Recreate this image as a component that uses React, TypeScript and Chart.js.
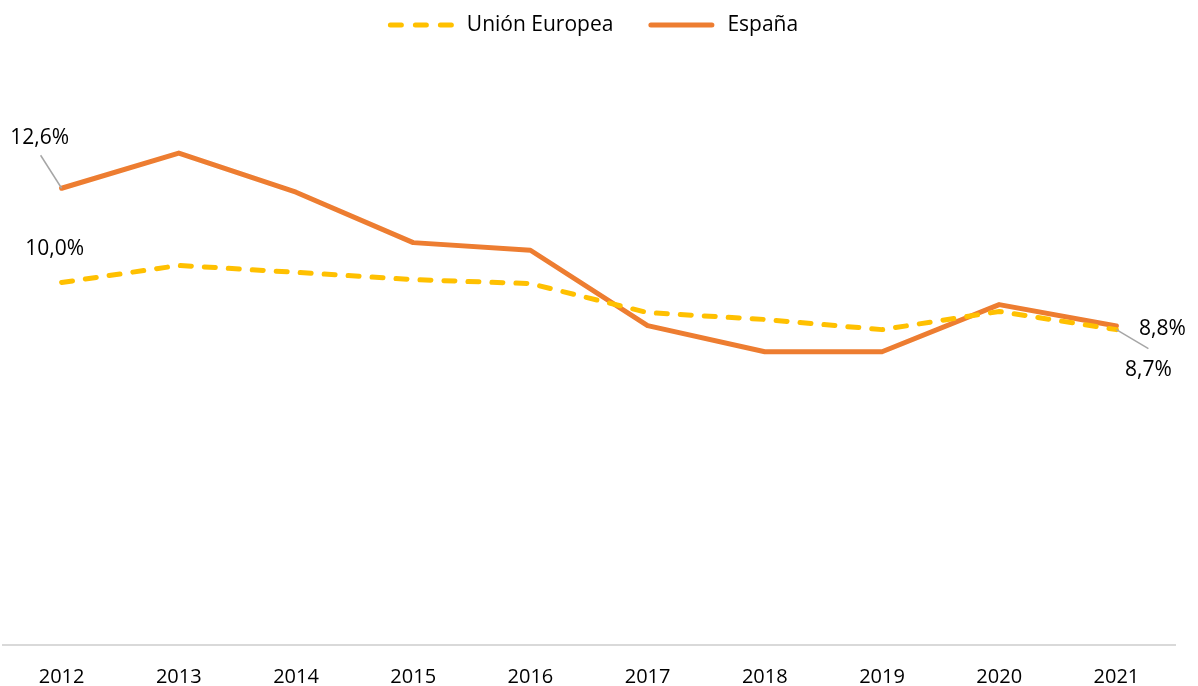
import React, { useEffect, useRef } from "react";
import { Chart, registerables } from "chart.js";

Chart.register(...registerables);

const years = ["2012", "2013", "2014", "2015", "2016", "2017", "2018", "2019", "2020", "2021"];
const ueValues = [10.0, 10.47, 10.28, 10.08, 9.97, 9.17, 8.98, 8.7, 9.2, 8.7];
const espValues = [12.6, 13.57, 12.49, 11.1, 10.89, 8.81, 8.09, 8.09, 9.39, 8.8];
const ueLabel = "Unión Europea";
const espLabel = "España";

// which points get a value label: [datasetIndex, pointIndex, dx, dy, leader]
const labelSpecs: [number, number, number, number, boolean][] = [
  [1, 0, -22, -50, true],
  [0, 0, -7, -33, false],
  [1, 9, 46, 3, false],
  [0, 9, 32, 40, true],
];

const FONT = "'Open Sans', sans-serif";

const fmt = (v: number) => v.toFixed(1).replace(".", ",") + "%";

const labelPlugin = {
  id: "valueLabels",
  afterDatasetsDraw(chart: any) {
    const ctx = chart.ctx;
    ctx.save();
    ctx.font = `21px ${FONT}`;
    ctx.fillStyle = "#000";
    ctx.textAlign = "center";
    ctx.textBaseline = "middle";
    for (const [di, pi, dx, dy, leader] of labelSpecs) {
      const el = chart.getDatasetMeta(di).data[pi];
      const v = chart.data.datasets[di].data[pi];
      const x = el.x + dx;
      const y = el.y + dy;
      if (leader) {
        ctx.strokeStyle = "#A6A6A6";
        ctx.lineWidth = 1.5;
        ctx.beginPath();
        ctx.moveTo(el.x, el.y);
        const ly = dy < 0 ? y + 17 : y - 21;
        const lx = dx < 0 ? x + 1 : x;
        ctx.lineTo(lx, ly);
        ctx.stroke();
      }
      ctx.fillText(fmt(v), x, y);
    }
    ctx.restore();
  },
};

const legendPlugin = {
  id: "lineLegend",
  afterDraw(chart: any) {
    const ctx = chart.ctx;
    const ds = chart.data.datasets;
    const lineW = 66;
    const textGap = 13;
    const itemGap = 35;
    const y = 25;
    ctx.save();
    ctx.font = `21px ${FONT}`;
    const widths = ds.map((d: any) => lineW + textGap + ctx.measureText(d.label).width);
    const total = widths.reduce((a: number, b: number) => a + b, 0) + itemGap * (ds.length - 1);
    const cx = (chart.chartArea.left + chart.chartArea.right) / 2 + 4;
    let x = cx - total / 2;
    ds.forEach((d: any, i: number) => {
      ctx.strokeStyle = d.borderColor;
      ctx.lineWidth = 5;
      ctx.lineCap = "round";
      ctx.setLineDash(d.borderDash ? [11, 14] : []);
      ctx.beginPath();
      ctx.moveTo(x + 2.5, y);
      ctx.lineTo(x + lineW - 2.5, y);
      ctx.stroke();
      ctx.setLineDash([]);
      ctx.fillStyle = "#000";
      ctx.textAlign = "left";
      ctx.textBaseline = "middle";
      ctx.fillText(d.label, x + lineW + textGap, y);
      x += widths[i] + itemGap;
    });
    ctx.restore();
  },
};

export default function App() {
  const ref = useRef<HTMLCanvasElement>(null);
  useEffect(() => {
    const chart = new Chart(ref.current!, {
      type: "line",
      data: {
        labels: years,
        datasets: [
          {
            label: ueLabel,
            data: ueValues,
            borderColor: "#FFC000",
            backgroundColor: "#FFC000",
            borderWidth: 5,
            borderDash: [11, 13],
            borderCapStyle: "round",
            borderJoinStyle: "round",
            pointRadius: 0,
            tension: 0,
          },
          {
            label: espLabel,
            data: espValues,
            borderColor: "#ED7D31",
            backgroundColor: "#ED7D31",
            borderWidth: 5,
            borderCapStyle: "round",
            borderJoinStyle: "round",
            pointRadius: 0,
            tension: 0,
          },
        ],
      },
      options: {
        animation: false,
        responsive: true,
        maintainAspectRatio: false,
        layout: { padding: { left: 3, right: 23, top: 65, bottom: -23 } },
        plugins: {
          legend: { display: false },
          tooltip: { enabled: false },
        },
        scales: {
          x: {
            offset: true,
            grid: { display: false, drawTicks: false },
            border: { color: "#D9D9D9", width: 2 },
            ticks: { font: { family: FONT, size: 20 }, color: "#000", padding: 20, maxRotation: 0 },
          },
          y: {
            display: false,
            min: 0,
            max: 16,
          },
        },
      },
      plugins: [labelPlugin, legendPlugin],
    });
    return () => chart.destroy();
  }, []);
  return (
    <div style={{ position: "fixed", left: 0, top: 0, width: 1198, height: 686, background: "#fff" }}>
      <canvas ref={ref} />
    </div>
  );
}
